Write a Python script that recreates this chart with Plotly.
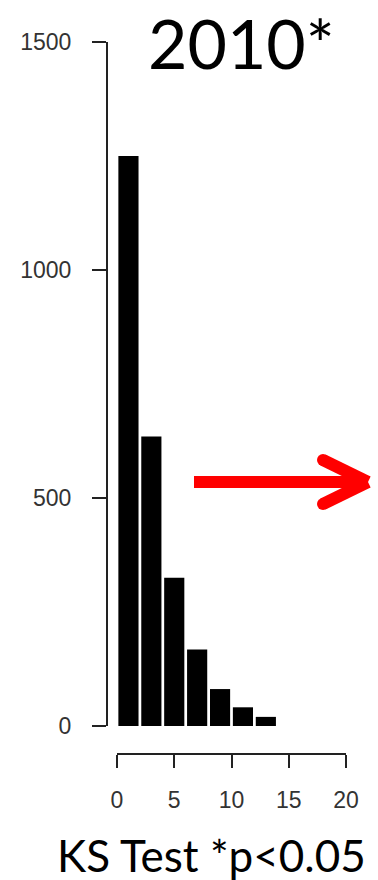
import plotly.graph_objects as go

# Histogram counts, bins of width 2 starting at 0
bin_centers = [1, 3, 5, 7, 9, 11, 13]
counts = [1250, 635, 325, 168, 81, 41, 20]

x_ticks = [0, 5, 10, 15, 20]
y_ticks = [0, 500, 1000, 1500]

W, H = 378, 880


def px(x):
    return x / W


def py(y):
    return 1 - y / H


fig = go.Figure()
fig.add_trace(go.Bar(
    x=bin_centers, y=counts, width=1.76,
    marker=dict(color="black", line=dict(width=0)),
    hoverinfo="skip", showlegend=False,
))

tick_font = dict(family="Liberation Sans, Arial, sans-serif", size=23, color="#333333")

fig.update_layout(
    width=W, height=H, autosize=False,
    margin=dict(l=0, r=0, t=0, b=0, pad=0, autoexpand=False),
    paper_bgcolor="white", plot_bgcolor="white",
    showlegend=False,
    xaxis=dict(
        domain=[px(117), px(346)], range=[0, 20],
        anchor="free", position=py(754), automargin=False,
        tickvals=x_ticks, ticks="outside", ticklen=13, tickwidth=2, tickcolor="#222",
        showline=True, linewidth=2, linecolor="#222",
        showgrid=False, zeroline=False,
        tickfont=tick_font, ticklabelstandoff=12,
    ),
    yaxis=dict(
        domain=[py(726), py(42)], range=[0, 1500],
        anchor="free", position=px(107), automargin=False,
        tickvals=y_ticks, ticks="outside", ticklen=14, tickwidth=2, tickcolor="#222",
        showline=True, linewidth=2, linecolor="#222",
        showgrid=False, zeroline=False,
        tickfont=tick_font, ticklabelstandoff=16,
    ),
)

# Title and caption
fig.add_annotation(
    text="2010*", xref="paper", yref="paper", x=px(241), y=1,
    xanchor="center", yanchor="top", showarrow=False,
    font=dict(family="Lato, sans-serif", size=68, color="black"),
)
fig.add_annotation(
    text="KS Test *p<0.05", xref="paper", yref="paper", x=px(55), y=py(855),
    xanchor="left", yanchor="middle", showarrow=False,
    font=dict(family="Lato, sans-serif", size=44, color="black"),
)

# Red arrow pointing right
red = "#ff0000"
arrow_w = 12
fig.add_shape(type="line", xref="paper", yref="paper",
              x0=px(194), y0=py(482), x1=px(366), y1=py(482),
              line=dict(color=red, width=arrow_w))
for ey in (460, 504):
    fig.add_shape(type="line", xref="paper", yref="paper",
                  x0=px(323), y0=py(ey), x1=px(368), y1=py(482),
                  line=dict(color=red, width=arrow_w))
    r = arrow_w / 2
    fig.add_shape(type="circle", xref="paper", yref="paper",
                  x0=px(323 - r), x1=px(323 + r), y0=py(ey + r), y1=py(ey - r),
                  fillcolor=red, line=dict(width=0))

fig.write_html("out.html")
